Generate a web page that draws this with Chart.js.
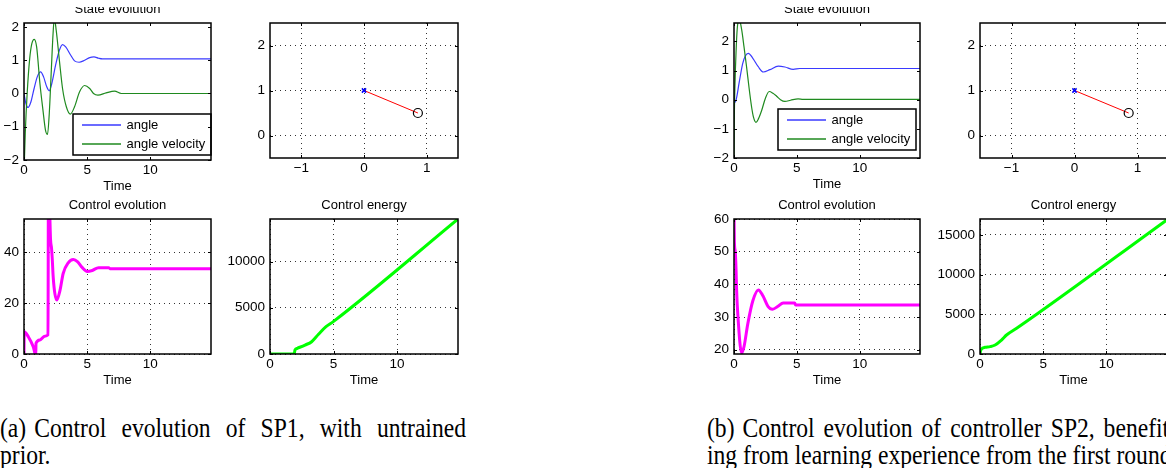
<!DOCTYPE html>
<html>
<head>
<meta charset="utf-8">
<script src="https://cdn.jsdelivr.net/npm/chart.js@4.4.0/dist/chart.umd.min.js"></script>
<style>
    html, body { margin: 0; padding: 0; background: #fff; }
    body { width: 1166px; height: 468px; position: relative; overflow: hidden; }
    canvas { position: absolute; }
    .cap {
        position: absolute;
        font-family: "Liberation Serif", "Times New Roman", serif;
        font-size: 23.6px;
        line-height: 22.5px;
        color: #000;
        transform: scaleY(1.2);
        transform-origin: 0 0;
    }
    .cap div { white-space: nowrap; }
    .cap .j { white-space: normal; text-align: justify; text-align-last: justify; }
    .cap .lab { display: inline-block; margin-right: 8px; }
</style>
</head>
<body>

<div class="cap" style="left:0px;top:414px;width:466px">
    <div class="j"><span class="lab">(a)</span>Control evolution of SP1, with untrained</div>
    <div>prior.</div>
</div>
<div class="cap" style="left:707px;top:414px;width:470px">
    <div class="j"><span class="lab">(b)</span>Control evolution of controller SP2, benefit-</div>
    <div>ing from learning experience from the first round.</div>
</div>

<script>
// ---- shared axis values ----
const tMax = 14.8;
const timeTicks = [0, 5, 10];
const stateTicks = [-2, -1, 0, 1, 2];
const pendXTicks = [-1, 0, 1];
const pendYTicks = [0, 1, 2];
const ctrlTicksA = [0, 20, 40];
const ctrlTicksB = [20, 30, 40, 50, 60];
const energyTicksA = [0, 5000, 10000];
const energyTicksB = [0, 5000, 10000, 15000];

// pendulum snapshot (pivot and bob), same in both runs
const pivot = [0, 1];
const bob = [0.86, 0.5];

// ---- SP1, untrained prior ----
const angleTimeA = [0, 0.15, 0.32, 0.55, 0.8, 1.05, 1.31, 1.55, 1.8, 2.0, 2.2, 2.5, 2.8, 3.05, 3.3, 3.7, 4.0, 4.36, 4.8, 5.2, 5.54, 5.9, 6.2, 14.8];
const angleA = [0, -0.3, -0.42, -0.25, 0.15, 0.5, 0.65, 0.5, 0.2, 0.08, 0.3, 0.85, 1.3, 1.47, 1.4, 1.15, 0.98, 0.94, 1.0, 1.08, 1.1, 1.06, 1.04, 1.04];
const velTimeA = [0, 0.1, 0.25, 0.45, 0.62, 0.81, 1.0, 1.26, 1.5, 1.7, 1.86, 2.0, 2.15, 2.3, 2.4, 2.55, 2.8, 3.05, 3.35, 3.67, 4.0, 4.4, 4.8, 5.2, 5.5, 5.85, 6.5, 7.17, 7.7, 14.8];
const velA = [-2.4, -1.2, 0.0, 1.05, 1.5, 1.63, 1.4, 0.3, -0.5, -1.1, -1.23, -0.6, 0.6, 1.8, 2.25, 1.9, 1.0, 0.15, -0.4, -0.62, -0.4, 0.05, 0.24, 0.15, 0.0, -0.05, 0.02, 0.07, 0.0, 0.0];
const ctrlTimeA = [0, 0.02, 0.34, 0.73, 0.93, 0.95, 1.26, 1.65, 1.9, 1.93, 2.03, 2.1, 2.18, 2.24, 2.31, 2.45, 2.6, 2.85, 3.1, 3.5, 3.9, 4.25, 4.6, 5.0, 5.4, 5.9, 6.7, 6.8, 14.8];
const ctrlA = [0, 8.7, 6.8, 2.9, -0.5, 4.2, 5.5, 7.0, 7.5, 60, 56, 45, 41.5, 37, 30.3, 23.5, 21.2, 25, 31.6, 35.8, 37.1, 36.2, 34.0, 32.4, 32.8, 33.9, 33.9, 33.5, 33.5];
const energyTimeA = [0, 1.9, 1.97, 2.15, 2.76, 3.28, 3.8, 4.41, 4.98, 14.8];
const energyA = [0, 0, 450, 620, 970, 1330, 2100, 2950, 3500, 14600];

// ---- SP2, trained prior ----
const angleTimeB = [0, 0.16, 0.42, 0.69, 0.9, 1.14, 1.5, 1.93, 2.33, 2.86, 3.52, 4.05, 4.71, 5.24, 14.8];
const angleB = [-0.12, -0.02, 0.61, 1.24, 1.5, 1.59, 1.42, 1.13, 0.95, 1.03, 1.15, 1.12, 1.04, 1.07, 1.07];
const velTimeB = [0, 0.03, 0.08, 0.16, 0.26, 0.42, 0.61, 0.8, 1.0, 1.2, 1.4, 1.55, 1.75, 1.95, 2.2, 2.5, 2.8, 3.1, 3.39, 3.7, 4.05, 4.5, 5.1, 5.5, 14.8];
const velB = [-2.3, -0.5, 0.55, 1.6, 2.45, 2.75, 2.4, 1.8, 1.13, 0.4, -0.25, -0.6, -0.78, -0.65, -0.37, 0.05, 0.28, 0.22, 0.12, 0.0, -0.06, -0.02, 0.03, 0.01, 0.01];
const ctrlTimeB = [0, 0.03, 0.1, 0.16, 0.21, 0.3, 0.61, 0.8, 1.1, 1.5, 1.94, 2.3, 2.7, 3.07, 3.5, 3.91, 4.83, 4.9, 14.8];
const ctrlB = [62, 53, 50, 45, 38, 31, 19.0, 21, 28, 35, 38.3, 36.5, 33.3, 32.4, 33.3, 34.3, 34.3, 33.7, 33.7];
const energyTimeB = [0, 0.05, 0.4, 0.8, 1.2, 1.7, 2.1, 2.9, 14.8];
const energyB = [0, 480, 840, 930, 1130, 1760, 2390, 3230, 16900];

// ---- layout ----
const SANS = '"Liberation Sans", Arial, Helvetica, sans-serif';
const SIDE = 60, TOP = 24, BOTTOM = 34;

Chart.defaults.font.family = SANS;

function pts(xs, ys) {
    return xs.map((x, i) => ({ x: x, y: ys[i] }));
}

// title drawn centred above the axes, optionally cut at the top like the scan
const titlePlugin = {
    id: 'axtitle',
    afterDraw(chart, args, o) {
        if (!o.text) return;
        const { ctx, chartArea: a } = chart;
        ctx.save();
        if (o.cutY !== undefined) {
            const cy = o.cutY - chart.canvas.offsetTop;
            ctx.beginPath();
            ctx.rect(0, cy, chart.width, chart.height);
            ctx.clip();
        }
        ctx.font = '13px ' + SANS;
        ctx.fillStyle = '#000';
        ctx.textAlign = 'center';
        ctx.textBaseline = 'alphabetic';
        ctx.fillText(o.text, (a.left + a.right) / 2, a.top - 10);
        ctx.restore();
    }
};

// boxed legend inside the lower right corner
const legendPlugin = {
    id: 'boxlegend',
    afterDatasetsDraw(chart, args, o) {
        const { ctx, chartArea: a } = chart;
        const w = 138, h = 41;
        const x = a.right - o.inset[0] - w;
        const y = a.bottom - o.inset[1] - h;
        ctx.save();
        ctx.fillStyle = '#fff';
        ctx.fillRect(x, y, w, h);
        ctx.strokeStyle = '#000';
        ctx.lineWidth = 1.5;
        ctx.strokeRect(x, y, w, h);
        ctx.font = '13px ' + SANS;
        ctx.textBaseline = 'middle';
        chart.data.datasets.forEach((ds, i) => {
            const ly = y + 11 + i * 19;
            ctx.strokeStyle = ds.borderColor;
            ctx.lineWidth = 1.3;
            ctx.beginPath();
            ctx.moveTo(x + 9, ly);
            ctx.lineTo(x + 48, ly);
            ctx.stroke();
            ctx.fillStyle = '#000';
            ctx.fillText(ds.label, x + 53.5, ly);
        });
        ctx.restore();
    }
};

// MATLAB style box round the axes with inward tick marks
const boxPlugin = {
    id: 'axbox',
    afterDatasetsDraw(chart) {
        const { ctx, chartArea: a, scales } = chart;
        ctx.save();
        ctx.strokeStyle = '#000';
        ctx.lineWidth = 1;
        ctx.beginPath();
        scales.x.ticks.forEach(t => {
            const px = Math.round(scales.x.getPixelForValue(t.value)) + 0.5;
            ctx.moveTo(px, a.bottom); ctx.lineTo(px, a.bottom - 3);
            ctx.moveTo(px, a.top); ctx.lineTo(px, a.top + 3);
        });
        scales.y.ticks.forEach(t => {
            const py = Math.round(scales.y.getPixelForValue(t.value)) + 0.5;
            ctx.moveTo(a.left, py); ctx.lineTo(a.left + 3, py);
            ctx.moveTo(a.right, py); ctx.lineTo(a.right - 3, py);
        });
        ctx.stroke();
        ctx.lineWidth = 1.5;
        ctx.strokeRect(a.left, a.top, a.right - a.left, a.bottom - a.top);
        ctx.restore();
    }
};

function axis(min, max, ticks, dir, grid, title) {
    return {
        type: 'linear',
        min: min,
        max: max,
        afterBuildTicks: s => { s.ticks = ticks.map(v => ({ value: v })); },
        afterFit: s => {
            if (dir === 'x') s.height = BOTTOM;
            else s.width = SIDE;
        },
        grid: { display: grid, drawTicks: false, color: '#333', lineWidth: 1 },
        border: { display: false, dash: [1, 4] },
        ticks: {
            color: '#000',
            font: { size: 13.5 },
            padding: dir === 'x' ? 2 : 5,
            autoSkip: false,
            maxRotation: 0,
            callback: v => String(v).replace('-', '\u2212')
        },
        title: {
            display: !!title,
            text: title || '',
            color: '#000',
            font: { size: 13 },
            padding: 0
        }
    };
}

function makePlot(p) {
    const [l, t, r, b] = p.area;
    const cv = document.createElement('canvas');
    cv.width = (r - l) + 2 * SIDE;
    cv.height = (b - t) + TOP + BOTTOM;
    cv.style.left = (l - SIDE) + 'px';
    cv.style.top = (t - TOP) + 'px';
    document.body.appendChild(cv);

    return new Chart(cv, {
        type: 'line',
        data: { datasets: p.datasets },
        options: {
            responsive: false,
            animation: false,
            events: [],
            layout: { padding: { left: 0, right: SIDE, top: TOP, bottom: 0 } },
            plugins: {
                legend: { display: false },
                tooltip: { enabled: false },
                axtitle: { text: p.title, cutY: p.cutY },
                boxlegend: p.legend || false
            },
            scales: {
                x: axis(p.x[0], p.x[1], p.x[2], 'x', p.grid, p.xTitle),
                y: axis(p.y[0], p.y[1], p.y[2], 'y', p.grid)
            }
        },
        plugins: [titlePlugin, legendPlugin, boxPlugin]
    });
}

// ---- dataset builders ----
function stateSets(ta, a, tv, v) {
    return [
        { label: 'angle', data: pts(ta, a), borderColor: '#3a3aff', borderWidth: 1.2, pointRadius: 0, cubicInterpolationMode: 'monotone', order: 1 },
        { label: 'angle velocity', data: pts(tv, v), borderColor: '#1f8a1f', borderWidth: 1.2, pointRadius: 0, cubicInterpolationMode: 'monotone', order: 0 }
    ];
}

function thickSet(ts, vs, color) {
    return [{ data: pts(ts, vs), borderColor: color, borderWidth: 3, pointRadius: 0, cubicInterpolationMode: 'monotone' }];
}

function pendulumSets() {
    return [
        { data: pts([pivot[0]], [pivot[1]]), showLine: false, pointStyle: 'crossRot', pointRadius: 3, borderColor: '#0000ff', borderWidth: 1.5 },
        { data: pts([bob[0]], [bob[1]]), showLine: false, pointStyle: 'circle', pointRadius: 4.5, borderColor: '#000', backgroundColor: 'rgba(0,0,0,0)', borderWidth: 1.2 },
        { data: pts([pivot[0], bob[0]], [pivot[1], bob[1]]), borderColor: '#ff0000', borderWidth: 1, pointRadius: 0 }
    ];
}

// ---- (a) SP1 ----
makePlot({
    area: [24, 23, 211, 160], title: 'State evolution', cutY: 7, xTitle: 'Time', grid: false,
    x: [0, tMax, timeTicks], y: [-2, 2.12, stateTicks],
    datasets: stateSets(angleTimeA, angleA, velTimeA, velA),
    legend: { inset: [0, 5] }
});
makePlot({
    area: [270, 23, 458, 158], grid: true,
    x: [-1.5, 1.5, pendXTicks], y: [-0.5, 2.5, pendYTicks],
    datasets: pendulumSets()
});
makePlot({
    area: [24, 219, 211, 354], title: 'Control evolution', xTitle: 'Time', grid: true,
    x: [0, tMax, timeTicks], y: [0, 53, ctrlTicksA],
    datasets: thickSet(ctrlTimeA, ctrlA, '#ff00ff')
});
makePlot({
    area: [270, 219, 458, 354], title: 'Control energy', xTitle: 'Time', grid: true,
    x: [0, tMax, timeTicks], y: [0, 14600, energyTicksA],
    datasets: thickSet(energyTimeA, energyA, '#00ff00')
});

// ---- (b) SP2 ----
makePlot({
    area: [734, 23, 920, 158], title: 'State evolution', cutY: 7, xTitle: 'Time', grid: false,
    x: [0, tMax, timeTicks], y: [-2, 2.63, stateTicks],
    datasets: stateSets(angleTimeB, angleB, velTimeB, velB),
    legend: { inset: [4, 8] }
});
makePlot({
    area: [980, 23, 1169, 158], grid: true,
    x: [-1.5, 1.5, pendXTicks], y: [-0.5, 2.5, pendYTicks],
    datasets: pendulumSets()
});
makePlot({
    area: [734, 219, 920, 354], title: 'Control evolution', xTitle: 'Time', grid: true,
    x: [0, tMax, timeTicks], y: [18.7, 60, ctrlTicksB],
    datasets: thickSet(ctrlTimeB, ctrlB, '#ff00ff')
});
makePlot({
    area: [980, 219, 1167, 354], title: 'Control energy', xTitle: 'Time', grid: true,
    x: [0, tMax, timeTicks], y: [0, 17000, energyTicksB],
    datasets: thickSet(energyTimeB, energyB, '#00ff00')
});
</script>
</body>
</html>
